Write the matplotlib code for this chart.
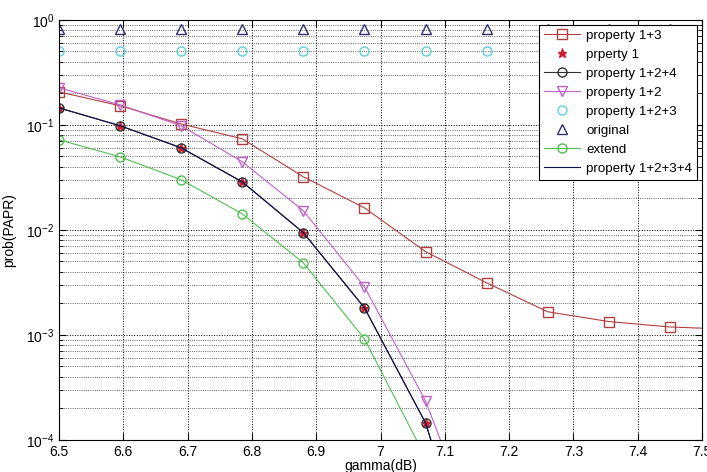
import matplotlib.pyplot as plt
from matplotlib.ticker import LogLocator, NullFormatter, MultipleLocator, FormatStrFormatter

#data
gamma = [6.5, 6.595, 6.69, 6.785, 6.88, 6.975, 7.07, 7.165, 7.26, 7.355, 7.45, 7.545]

prop_13 = [0.206, 0.152, 0.102, 0.0736, 0.032, 0.0162, 0.0062, 0.00313, 0.00166, 0.00134, 0.00119, 0.00113]
prop_1 = [0.145, 0.098, 0.0604, 0.0286, 0.0094, 0.00181, 0.000145, 2e-6]
prop_124 = [0.145, 0.098, 0.0604, 0.0286, 0.0094, 0.00181, 0.000145, 2e-6]
prop_12 = [0.225, 0.155, 0.098, 0.0445, 0.0152, 0.00287, 0.000235, 7e-6]
prop_123 = [0.5, 0.5, 0.5, 0.5, 0.5, 0.5, 0.5, 0.5, 0.5, 0.5, 0.5]
original = [0.82, 0.82, 0.82, 0.82, 0.82, 0.82, 0.82, 0.82, 0.82, 0.82, 0.82]
extend = [0.072, 0.0496, 0.030, 0.0142, 0.00485, 0.000916, 6.8e-5, 2e-6]
prop_1234 = [0.145, 0.098, 0.0604, 0.0286, 0.0094, 0.00181, 0.000145, 2e-6]

plt.rcParams['font.family'] = ['Liberation Sans', 'DejaVu Sans']

fig = plt.figure(figsize=(7.07, 4.72), dpi=100)
ax = fig.add_axes([0.0835, 0.068, 0.9095, 0.89])

lw = 0.8
ms = 6.5
ax.plot(gamma[:len(prop_13)], prop_13, '-s', color='#b04040', lw=lw, ms=ms,
        mfc='none', label='property 1+3')
ax.plot(gamma[:len(prop_1)], prop_1, '*', color='#d02030', lw=0, ms=ms,
        label='prperty 1')
ax.plot(gamma[:len(prop_124)], prop_124, '-o', color='#303030', lw=lw, ms=ms,
        mfc='none', label='property 1+2+4')
ax.plot(gamma[:len(prop_12)], prop_12, '-v', color='#c060c8', lw=lw, ms=ms,
        mfc='none', label='property 1+2')
ax.plot(gamma[:len(prop_123)], prop_123, 'o', color='#60d0d8', ms=ms,
        mfc='none', label='property 1+2+3')
ax.plot(gamma[:len(original)], original, '^', color='#303070', ms=ms,
        mfc='none', label='original')
ax.plot(gamma[:len(extend)], extend, '-o', color='#50c050', lw=lw, ms=ms,
        mfc='none', label='extend')
ax.plot(gamma[:len(prop_1234)], prop_1234, '-', color='#101050', lw=lw,
        label='property 1+2+3+4')

ax.set_yscale('log')
ax.set_xlim(6.5, 7.5)
ax.set_ylim(1e-4, 1)
ax.xaxis.set_major_locator(MultipleLocator(0.1))
ax.xaxis.set_major_formatter(FormatStrFormatter('%g'))
ax.yaxis.set_major_locator(LogLocator(base=10, numticks=10))
ax.yaxis.set_minor_locator(LogLocator(base=10, subs=range(2, 10), numticks=20))
ax.yaxis.set_minor_formatter(NullFormatter())

#matlab style dotted grid
ax.grid(True, which='major', axis='both', linestyle=':', color='black', lw=0.7)
ax.grid(True, which='minor', axis='y', linestyle=':', color='#333333', lw=0.6)

ax.tick_params(which='both', direction='in', top=True, right=True, labelsize=10)
ax.tick_params(which='major', length=5)
ax.tick_params(which='minor', length=3)

for s in ax.spines.values():
    s.set_linewidth(0.8)

ax.set_xlabel('gamma(dB)', fontsize=10, labelpad=0)
ax.set_ylabel('prob(PAPR)', fontsize=10, labelpad=7)

leg = ax.legend(loc='upper right', fontsize=9.6, frameon=True, fancybox=False,
                edgecolor='black', framealpha=1, borderaxespad=0.4,
                handlelength=2.7, handletextpad=0.5, labelspacing=0.5,
                borderpad=0.35)
leg.get_frame().set_linewidth(0.8)

plt.savefig('out.png', dpi=100)
